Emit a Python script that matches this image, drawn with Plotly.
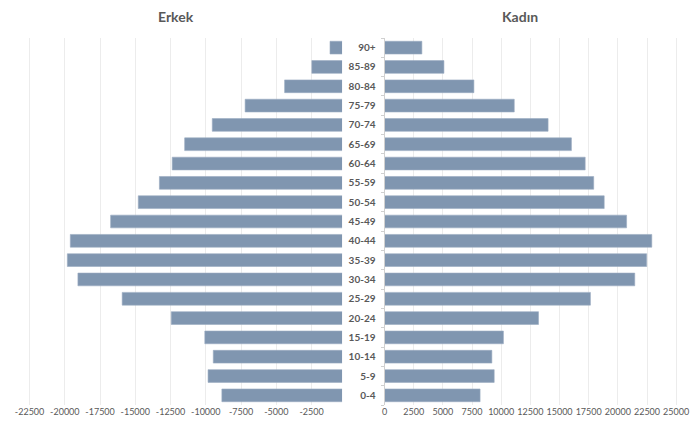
import plotly.graph_objects as go

# Age groups, youngest first (bottom of the pyramid)
age_groups = ["0-4", "5-9", "10-14", "15-19", "20-24", "25-29", "30-34", "35-39",
              "40-44", "45-49", "50-54", "55-59", "60-64", "65-69", "70-74",
              "75-79", "80-84", "85-89", "90+"]

# Population by age group
erkek = [8860, 9840, 9470, 10070, 12450, 15930, 19070, 19820,
         19610, 16750, 14790, 13290, 12380, 11500, 9540,
         7210, 4410, 2480, 1190]
kadin = [8190, 9400, 9200, 10190, 13200, 17650, 21450, 22470,
         22910, 20750, 18830, 17930, 17200, 16020, 14020,
         11120, 7660, 5090, 3200]

# Axis tick values and their labels
erkek_ticks = [-22500, -20000, -17500, -15000, -12500, -10000, -7500, -5000, -2500]
erkek_tick_text = ["-22500", "-20000", "-17500", "-15000", "-12500", "-10000", "-7500", "-5000", "-2500"]
kadin_ticks = [0, 2500, 5000, 7500, 10000, 12500, 15000, 17500, 20000, 22500, 25000]
kadin_tick_text = ["0", "2500", "5000", "7500", "10000", "12500", "15000", "17500", "20000", "22500", "25000"]

BAR = "#8096b0"
EDGE = "#9aabc1"
TEXT = "#595959"
GRID = "#ececec"

W, H = 696, 423
TOP, BOTTOM = 38, 18
PLOT_H = H - TOP - BOTTOM
TITLE_Y = 1 + (TOP - 17) / PLOT_H

fig = go.Figure()
fig.add_trace(go.Bar(
    y=age_groups, x=[-v for v in erkek], orientation="h",
    xaxis="x", yaxis="y", name="Erkek",
    marker=dict(color=BAR, line=dict(color=EDGE, width=0.6)),
    showlegend=False,
))
fig.add_trace(go.Bar(
    y=age_groups, x=kadin, orientation="h",
    xaxis="x2", yaxis="y", name="Kadın",
    marker=dict(color=BAR, line=dict(color=EDGE, width=0.6)),
    showlegend=False,
))

tick_font = dict(family="Lato, 'Open Sans', sans-serif", size=9, color=TEXT)

fig.update_layout(
    width=W, height=H,
    margin=dict(l=0, r=0, t=TOP, b=BOTTOM),
    paper_bgcolor="white", plot_bgcolor="white",
    bargap=0.34,
    xaxis=dict(
        domain=[5.5 / W, 344 / W],
        range=[-24000, -335],
        tickvals=erkek_ticks, ticktext=erkek_tick_text,
        showgrid=True, gridcolor=GRID, gridwidth=1,
        zeroline=False, showline=False, ticks="",
        tickfont=tick_font, anchor="y", ticklabeloverflow="allow",
    ),
    xaxis2=dict(
        domain=[387.1 / W, 688.9 / W],
        range=[0, 25500],
        tickvals=kadin_ticks, ticktext=kadin_tick_text,
        showgrid=True, gridcolor=GRID, gridwidth=1,
        zeroline=False, showline=False, ticks="",
        tickfont=tick_font, anchor="y", ticklabeloverflow="allow",
    ),
    yaxis=dict(
        domain=[0, 1],
        anchor="x2",
        type="category",
        categoryorder="array", categoryarray=age_groups,
        range=[-0.5, len(age_groups) - 0.5],
        showgrid=False, zeroline=False,
        showline=True, linecolor="#d0d0d0", linewidth=1,
        ticks="outside", ticklen=3, tickcolor="#d0d0d0", tickson="boundaries",
        ticklabelstandoff=6,
        tickfont=dict(family="Lato, 'Open Sans', sans-serif", size=10, color=TEXT,
                      weight="bold"),
    ),
    annotations=[
        dict(text="<b>Erkek</b>", x=176 / W, y=TITLE_Y, xref="paper", yref="paper",
             showarrow=False, xanchor="center", yanchor="middle",
             font=dict(family="Lato, 'Open Sans', sans-serif", size=14, color=TEXT)),
        dict(text="<b>Kadın</b>", x=525 / W, y=TITLE_Y, xref="paper", yref="paper",
             showarrow=False, xanchor="center", yanchor="middle",
             font=dict(family="Lato, 'Open Sans', sans-serif", size=14, color=TEXT)),
    ],
)

fig.write_html("out.html")
